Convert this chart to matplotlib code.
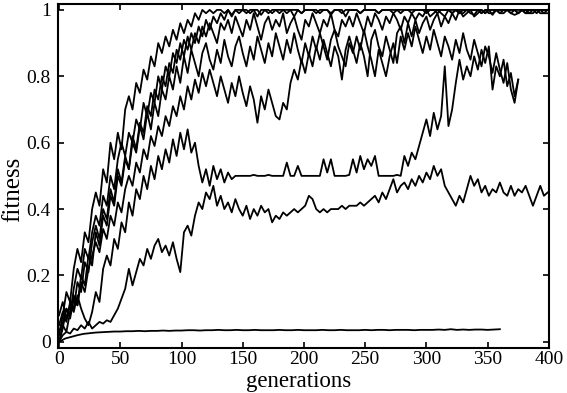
import numpy as np
import matplotlib.pyplot as plt

# fitness of each run, every 3 generations
# (the flat run every 5)
step = 3
step_flat = 5

run_a = [0.02, 0.08, 0.15, 0.12, 0.22, 0.28, 0.24, 0.33, 0.30, 0.40,
         0.45, 0.41, 0.52, 0.48, 0.60, 0.55, 0.63, 0.58, 0.70, 0.74,
         0.70, 0.78, 0.75, 0.82, 0.79, 0.86, 0.83, 0.90, 0.87, 0.92,
         0.89, 0.94, 0.91, 0.96, 0.93, 0.97, 0.95, 0.99, 0.97, 1.00,
         0.99, 1.00, 0.99, 1.00, 1.00, 0.99, 1.00, 0.985, 1.00, 1.00,
         1.00, 0.99, 1.00, 1.00, 1.00, 0.985, 1.00, 1.00, 0.99, 1.00,
         1.00, 1.00, 0.99, 1.00, 1.00, 1.00, 0.99, 1.00, 1.00, 1.00,
         0.99, 1.00, 1.00, 1.00, 0.985, 1.00, 1.00, 0.99, 1.00, 1.00,
         1.00, 1.00, 0.99, 1.00, 1.00, 1.00, 1.00, 0.99, 1.00, 1.00,
         1.00, 0.99, 1.00, 1.00, 1.00, 1.00, 0.99, 1.00, 1.00, 1.00,
         1.00, 1.00, 1.00, 0.99, 1.00, 1.00, 1.00, 1.00, 1.00, 0.99,
         1.00, 1.00, 1.00, 1.00, 1.00, 1.00, 0.99, 1.00, 1.00, 1.00,
         1.00, 1.00, 1.00, 1.00, 1.00, 0.99, 1.00, 1.00, 1.00, 1.00,
         1.00, 1.00, 1.00, 1.00]

run_b = [0.00, 0.04, 0.10, 0.08, 0.16, 0.22, 0.19, 0.28, 0.25, 0.33,
         0.38, 0.35, 0.44, 0.41, 0.50, 0.46, 0.55, 0.60, 0.56, 0.63,
         0.60, 0.67, 0.64, 0.72, 0.68, 0.75, 0.72, 0.80, 0.76, 0.83,
         0.80, 0.87, 0.84, 0.90, 0.86, 0.92, 0.88, 0.93, 0.90, 0.95,
         0.92, 0.96, 0.93, 0.90, 0.96, 0.94, 0.97, 0.93, 0.98, 0.95,
         0.92, 0.97, 0.94, 0.99, 0.95, 0.91, 0.96, 0.98, 0.94, 0.97,
         0.95, 0.99, 0.93, 0.96, 0.98, 0.94, 0.91, 0.97, 0.95, 0.99,
         0.96, 0.93, 0.97, 0.95, 0.99, 0.94, 0.92, 0.97, 0.95, 0.98,
         0.95, 0.99, 0.96, 0.93, 0.98, 0.95, 0.99, 0.97, 0.94, 0.98,
         0.96, 0.99, 0.97, 0.94, 0.98, 0.96, 0.99, 0.97, 0.99, 0.98,
         1.00, 0.98, 0.99, 1.00, 0.99, 0.98, 1.00, 0.99, 1.00, 0.99,
         0.99, 1.00, 0.99, 0.985, 1.00, 0.99, 1.00, 0.99, 0.99, 1.00,
         0.99, 0.99, 1.00, 0.99, 0.985, 0.99, 1.00, 0.99, 0.99, 0.99,
         1.00, 0.99, 0.99, 0.99]

run_c = [0.05, 0.09, 0.06, 0.12, 0.10, 0.18, 0.15, 0.24, 0.21, 0.30,
         0.35, 0.31, 0.40, 0.37, 0.46, 0.42, 0.52, 0.48, 0.56, 0.52,
         0.60, 0.57, 0.65, 0.61, 0.69, 0.64, 0.72, 0.68, 0.76, 0.73,
         0.80, 0.76, 0.83, 0.78, 0.86, 0.81, 0.88, 0.84, 0.80, 0.87,
         0.90, 0.85, 0.82, 0.88, 0.84, 0.91, 0.86, 0.83, 0.89, 0.92,
         0.87, 0.83, 0.89, 0.85, 0.92, 0.88, 0.84, 0.90, 0.86, 0.93,
         0.89, 0.85, 0.91, 0.87, 0.93, 0.88, 0.84, 0.90, 0.86, 0.92,
         0.88, 0.93, 0.89, 0.85, 0.91, 0.94, 0.89, 0.86, 0.83, 0.90,
         0.87, 0.92, 0.88, 0.94, 0.89, 0.85, 0.80, 0.88, 0.84, 0.80,
         0.86, 0.90, 0.84, 0.92, 0.88, 0.93, 0.89, 0.95, 0.91, 0.87,
         0.92, 0.88, 0.94, 0.90, 0.86, 0.92, 0.89, 0.85, 0.91, 0.87,
         0.93, 0.88, 0.85, 0.91, 0.87, 0.83, 0.89, 0.86, 0.81, 0.87,
         0.82, 0.78, 0.84, 0.76, 0.72, 0.79]

run_d = [0.03, 0.06, 0.10, 0.07, 0.13, 0.11, 0.18, 0.15, 0.22, 0.26,
         0.30, 0.27, 0.34, 0.31, 0.38, 0.35, 0.42, 0.39, 0.46, 0.50,
         0.47, 0.54, 0.51, 0.58, 0.55, 0.62, 0.59, 0.65, 0.62, 0.68,
         0.65, 0.71, 0.68, 0.74, 0.70, 0.77, 0.73, 0.79, 0.75, 0.81,
         0.77, 0.82, 0.78, 0.74, 0.80, 0.76, 0.72, 0.78, 0.74, 0.80,
         0.75, 0.71, 0.77, 0.73, 0.66, 0.74, 0.70, 0.76, 0.72, 0.68,
         0.67, 0.72, 0.70, 0.78, 0.82, 0.79, 0.85, 0.81, 0.87, 0.83,
         0.89, 0.85, 0.91, 0.87, 0.83, 0.89, 0.86, 0.79, 0.88, 0.92,
         0.88, 0.84, 0.90, 0.86, 0.80, 0.91, 0.94, 0.89, 0.86, 0.92,
         0.88, 0.84, 0.93, 0.95, 0.90, 0.96, 0.92, 0.97, 0.93, 0.96,
         0.98, 0.94, 0.97, 0.99, 0.95, 0.98, 0.96, 0.99, 0.97, 1.00,
         0.98, 0.99, 1.00, 0.98, 0.99, 1.00, 0.99, 1.00, 0.985, 1.00,
         0.99, 1.00, 1.00, 0.99, 1.00, 0.99, 1.00, 1.00, 0.99, 1.00,
         0.99, 1.00, 0.99, 1.00]

run_e = [0.00, 0.05, 0.03, 0.09, 0.14, 0.11, 0.20, 0.17, 0.26, 0.23,
         0.33, 0.29, 0.38, 0.35, 0.44, 0.41, 0.50, 0.47, 0.55, 0.52,
         0.62, 0.58, 0.66, 0.63, 0.71, 0.68, 0.76, 0.73, 0.80, 0.77,
         0.84, 0.81, 0.88, 0.85, 0.91, 0.88, 0.93, 0.90, 0.95, 0.92,
         0.97, 0.94, 0.98, 0.96, 0.99, 0.97, 1.00, 0.98, 1.00, 0.99,
         1.00, 1.00, 0.99, 1.00, 0.98, 1.00, 1.00, 0.99, 1.00, 1.00,
         0.99, 1.00, 1.00, 1.00, 0.98, 1.00, 0.99, 1.00, 1.00, 1.00,
         1.00, 0.99, 1.00, 1.00, 0.99, 1.00, 1.00, 1.00, 0.98, 1.00,
         1.00, 1.00, 0.99, 1.00, 1.00, 1.00, 1.00, 0.99, 1.00, 1.00,
         1.00, 1.00, 1.00, 0.99, 1.00, 1.00, 1.00, 1.00, 1.00, 1.00,
         0.99, 1.00, 1.00, 1.00, 1.00, 1.00, 1.00, 0.99, 1.00, 1.00,
         1.00, 1.00, 1.00, 1.00, 1.00, 0.99, 1.00, 1.00, 1.00, 1.00,
         1.00, 1.00, 1.00, 1.00, 1.00, 1.00, 1.00, 0.99, 1.00, 1.00,
         1.00, 1.00, 1.00, 1.00]

run_plateau = [0.08, 0.12, 0.07, 0.11, 0.09, 0.14, 0.10, 0.07, 0.05, 0.09,
               0.15, 0.12, 0.22, 0.26, 0.23, 0.31, 0.28, 0.36, 0.33, 0.42,
               0.38, 0.46, 0.43, 0.50, 0.46, 0.53, 0.49, 0.56, 0.52, 0.58,
               0.54, 0.61, 0.56, 0.63, 0.58, 0.64, 0.57, 0.60, 0.53, 0.48,
               0.52, 0.47, 0.53, 0.49, 0.52, 0.48, 0.51, 0.49, 0.50, 0.50,
               0.50, 0.50, 0.50, 0.503, 0.50, 0.50, 0.50, 0.503, 0.50, 0.50,
               0.50, 0.50, 0.54, 0.50, 0.50, 0.53, 0.50, 0.50, 0.50, 0.50,
               0.50, 0.50, 0.55, 0.51, 0.55, 0.50, 0.50, 0.50, 0.50, 0.503,
               0.55, 0.51, 0.56, 0.52, 0.55, 0.53, 0.56, 0.50, 0.50, 0.50,
               0.50, 0.50, 0.503, 0.50, 0.56, 0.53, 0.57, 0.55, 0.59, 0.63,
               0.67, 0.62, 0.69, 0.64, 0.68, 0.83, 0.65, 0.70, 0.78, 0.85,
               0.79, 0.83, 0.80, 0.86, 0.82, 0.88, 0.84, 0.89, 0.76, 0.83,
               0.80, 0.85, 0.77, 0.81, 0.74, 0.79]

run_slow = [0.00, 0.02, 0.03, 0.025, 0.04, 0.035, 0.05, 0.04, 0.06, 0.04,
            0.05, 0.06, 0.055, 0.065, 0.06, 0.08, 0.10, 0.13, 0.16, 0.22,
            0.17, 0.21, 0.25, 0.23, 0.28, 0.25, 0.29, 0.31, 0.27, 0.29,
            0.26, 0.30, 0.25, 0.21, 0.33, 0.35, 0.32, 0.38, 0.42, 0.40,
            0.45, 0.43, 0.47, 0.41, 0.44, 0.40, 0.42, 0.39, 0.43, 0.40,
            0.38, 0.41, 0.37, 0.40, 0.38, 0.41, 0.39, 0.40, 0.36, 0.38,
            0.37, 0.39, 0.38, 0.39, 0.40, 0.39, 0.40, 0.41, 0.44, 0.43,
            0.40, 0.39, 0.40, 0.39, 0.40, 0.40, 0.40, 0.41, 0.40, 0.41,
            0.41, 0.41, 0.42, 0.41, 0.42, 0.43, 0.44, 0.42, 0.45, 0.43,
            0.46, 0.49, 0.45, 0.47, 0.48, 0.46, 0.49, 0.47, 0.50, 0.48,
            0.51, 0.49, 0.53, 0.50, 0.52, 0.47, 0.45, 0.43, 0.41, 0.44,
            0.42, 0.46, 0.50, 0.47, 0.49, 0.45, 0.47, 0.44, 0.46, 0.45,
            0.48, 0.45, 0.44, 0.47, 0.44, 0.46, 0.45, 0.47, 0.44, 0.41,
            0.44, 0.47, 0.44, 0.45]

run_flat = [0.00, 0.010, 0.015, 0.020, 0.024, 0.026, 0.028, 0.029, 0.030, 0.031,
            0.031, 0.032, 0.032, 0.033, 0.032, 0.033, 0.033, 0.034, 0.033, 0.034,
            0.034, 0.035, 0.035, 0.034, 0.035, 0.035, 0.036, 0.035, 0.035, 0.036,
            0.035, 0.035, 0.036, 0.035, 0.035, 0.035, 0.036, 0.035, 0.035, 0.036,
            0.035, 0.035, 0.035, 0.036, 0.035, 0.035, 0.036, 0.035, 0.035, 0.035,
            0.036, 0.035, 0.036, 0.036, 0.035, 0.036, 0.036, 0.036, 0.035, 0.036,
            0.036, 0.036, 0.037, 0.036, 0.038, 0.036, 0.037, 0.036, 0.037, 0.037,
            0.036, 0.037, 0.038]

runs = [run_a, run_b, run_c, run_d, run_e, run_plateau, run_slow]

xticks = [0, 50, 100, 150, 200, 250, 300, 350, 400]
yticks = [0, 0.2, 0.4, 0.6, 0.8, 1]
ytick_labels = ['0', '0.2', '0.4', '0.6', '0.8', '1']

plt.rcParams['font.family'] = ['Liberation Serif', 'DejaVu Serif']

fig = plt.figure(figsize=(5.67, 3.93), dpi=100)
ax = fig.add_axes([0.102, 0.115, 0.866, 0.875])

for r in runs:
    g = np.arange(len(r)) * step
    ax.plot(g, r, color='black', lw=1.3)
ax.plot(np.arange(len(run_flat)) * step_flat, run_flat, color='black', lw=1.3)

ax.set_xlim(-1, 400)
ax.set_ylim(-0.018, 1.018)
ax.set_xticks(xticks)
ax.set_yticks(yticks)
ax.set_yticklabels(ytick_labels)
ax.tick_params(direction='in', length=4, width=1.2, labelsize=14,
               top=True, right=True, pad=5)
ax.tick_params(axis='x', pad=2)
for s in ax.spines.values():
    s.set_linewidth(1.5)

ax.set_xlabel('generations', fontsize=16.5)
ax.set_ylabel('fitness', fontsize=18)
ax.xaxis.set_label_coords(0.49, -0.068)
ax.yaxis.set_label_coords(-0.068, 0.46)

fig.savefig('out.png', dpi=100)
